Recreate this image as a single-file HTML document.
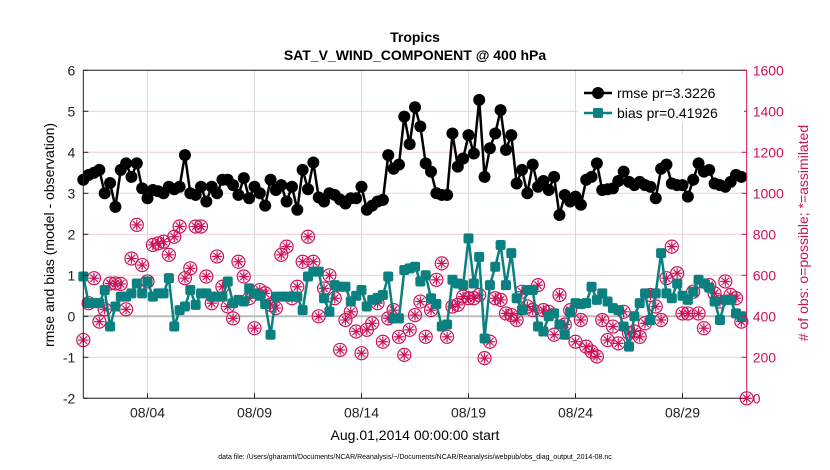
<!DOCTYPE html>
<html><head><meta charset="utf-8"><style>
body{margin:0;background:#fff;}
svg{display:block;font-family:"Liberation Sans",sans-serif;}
</style></head><body>
<svg id="chart" width="830" height="470" viewBox="0 0 830 470" xmlns="http://www.w3.org/2000/svg">
<rect width="830" height="470" fill="#fff"/>
<text x="415" y="42" text-anchor="middle" font-size="14" font-weight="bold">Tropics</text>
<text x="415" y="60" text-anchor="middle" font-size="14" font-weight="bold">SAT_V_WIND_COMPONENT @ 400 hPa</text>
<g id="grid"></g>
<g id="plot"></g>
<g id="axes"></g>
<text x="415" y="440" text-anchor="middle" font-size="14">Aug.01,2014 00:00:00 start</text>
<text x="415" y="459" text-anchor="middle" font-size="7">data file: /Users/gharamti/Documents/NCAR/Reanalysis/~/Documents/NCAR/Reanalysis/webpub/obs_diag_output_2014-08.nc</text>
<text transform="translate(54,235) rotate(-90)" text-anchor="middle" font-size="14">rmse and bias (model - observation)</text>
<text transform="translate(808,233) rotate(-90)" text-anchor="middle" font-size="14" fill="#cc1158"># of obs: o=possible; *=assimilated</text>
<g id="legend"></g>
</svg>
<script>
const rmse=[3.33,3.45,3.5,3.57, 3.0,3.25,2.67,3.57, 3.73,3.4,3.73,3.12, 2.88,3.08,3.05,3.0,
3.16,3.1,3.16,3.93, 3.0,2.96,3.16,2.8, 3.16,3.0,3.33,3.33, 3.2,2.96,3.37,2.88,
3.16,3.0,2.7,3.33, 3.08,3.2,2.8,3.16, 2.6,3.57,3.1,3.75, 2.9,2.8,3.0,2.96,
2.85,2.75,2.88,2.88, 3.16,2.6,2.7,2.8, 2.84,3.93,3.6,3.7, 4.87,4.2,5.1,4.63,
3.73,3.53,3.0,2.96, 2.96,4.46,3.65,3.85, 4.42,3.97,5.28,3.4, 4.1,4.46,5.03,4.06,
4.42,3.24,3.57,3.0, 3.7,3.16,3.3,3.08, 3.4,2.47,2.96,2.8, 2.92,2.72,3.33,3.4,
3.73,3.08,3.1,3.12, 3.3,3.53,3.28,3.2, 3.28,3.2,3.16,2.88, 3.6,3.7,3.24,3.2,
3.2,2.92,3.33,3.73, 3.53,3.57,3.24,3.2, 3.16,3.28,3.45,3.4];
const bias=[0.97,0.32,0.32,0.32, 0.64,-0.25,0.24,0.48, 0.48,0.56,0.8,0.56, 0.85,0.48,0.56,0.56,
0.93,-0.25,0.15,0.24, 0.64,0.28,0.56,0.56, 0.48,0.48,0.48,0.85, 0.32,0.4,0.36,0.68,
0.56,0.5,0.3,-0.45, 0.48,0.48,0.48,0.48, 0.48,0.15,0.97,1.09, 1.09,0.44,0.11,0.76,
0.72,0.72,0.36,0.5, 0.64,0.24,0.4,0.45, 0.52,0.97,-0.05,-0.05, 1.13,1.17,1.21,0.85,
1.0,0.44,0.3,-0.25, -0.2,0.89,0.8,0.76, 1.9,0.8,1.45,-0.54, 0.76,1.21,1.74,0.76,
1.54,0.44,0.15,0.64, 0.64,-0.25,-0.37,0.0, 0.07,-0.2,-0.45,0.1, 0.32,0.3,0.32,0.72,
0.4,0.56,0.36,0.2, 0.15,-0.25,-0.74,0.0, 0.32,0.56,-0.09,0.56, 1.54,0.56,0.44,0.8,
0.5,0.4,0.6,0.89, 0.8,0.7,0.36,-0.09, 0.4,0.4,0.07,0.0];
const obsCount=[284,464,586,374, 434,560,560,558, 434,682,846,650, 570,748,756,764,
700,788,838,586, 634,838,838,594, 464,692,544,448, 390,666,594,488,
342,528,512,456, 440,700,740,488, 544,666,788,666, 400,536,600,488,
236,382,422,326, 220,334,366,464, 276,390,430,300, 212,334,406,472,
300,430,578,658, 300,448,456,496, 488,488,504,196, 276,488,480,414,
406,382,520,448, 430,552,430,422, 310,504,360,430, 276,382,252,228,
204,382,284,350, 268,422,318,326, 300,366,504,448, 382,586,740,610,
414,414,520,414, 342,552,512,472, 570,504,488,374, 0];
const xTickDays=[3,8,13,18,23,28];
const xTickLabels=["08/04","08/09","08/14","08/19","08/24","08/29"];
const yTicks=[-2,-1,0,1,2,3,4,5,6];
const y2Ticks=[0,200,400,600,800,1000,1200,1400,1600];

const L=83.3,R=746.7,T=70.3,B=398.3, XMAX=31;
const NS="http://www.w3.org/2000/svg";
const xs=d=>L+(d/XMAX)*(R-L);
const ys=v=>B-(v+2)/8*(B-T);
const ys2=c=>B-c/1600*(B-T);
function mk(tag,attrs,parent){const e=document.createElementNS(NS,tag);for(const k in attrs)e.setAttribute(k,attrs[k]);parent.appendChild(e);return e;}
const grid=document.getElementById('grid'),plot=document.getElementById('plot'),axes=document.getElementById('axes'),leg=document.getElementById('legend');
const MAG="#cc1158";
yTicks.forEach(v=>{const l=mk('line',{x1:L,x2:R,y1:ys(v),y2:ys(v),stroke:'#f0c8dc','stroke-width':1},grid);

});
xTickDays.forEach(d=>{const l=mk('line',{x1:xs(d),x2:xs(d),y1:T,y2:B,stroke:'#d8d8d8','stroke-width':1},grid);

});
const zl=mk('line',{x1:L,x2:R,y1:ys(0),y2:ys(0),stroke:'#bbbbbb','stroke-width':2},grid);


obsCount.forEach((c,i)=>{const cx=xs(i/4),cy=ys2(c),r=6.5;
const g=mk('g',{stroke:MAG,'stroke-width':1.2,fill:'none'},plot);


mk('circle',{cx:cx,cy:cy,r:r},g);
for(let a=0;a<4;a++){const t=a*Math.PI/4,dx=Math.cos(t)*r*0.8,dy=Math.sin(t)*r*0.8;mk('line',{x1:cx-dx,y1:cy-dy,x2:cx+dx,y2:cy+dy},g);}
});
const bp=bias.map((v,i)=>xs(i/4)+','+ys(v)).join(' ');
const bl=mk('polyline',{points:bp,fill:'none',stroke:'#0a8080','stroke-width':2.5},plot);


bias.forEach((v,i)=>{const s=mk('rect',{x:xs(i/4)-5,y:ys(v)-5,width:10,height:10,rx:2,fill:'#0a8080'},plot);

});
const rp=rmse.map((v,i)=>xs(i/4)+','+ys(v)).join(' ');
const rl=mk('polyline',{points:rp,fill:'none',stroke:'#000','stroke-width':2.5},plot);


rmse.forEach((v,i)=>{const c=mk('circle',{cx:xs(i/4),cy:ys(v),r:6,fill:'#000'},plot);

});
const la=mk('line',{x1:L,x2:L,y1:T,y2:B,stroke:'#222','stroke-width':1},axes);


const ba=mk('line',{x1:L,x2:R,y1:B,y2:B,stroke:'#222','stroke-width':1},axes);


const ta=mk('line',{x1:L,x2:R,y1:T,y2:T,stroke:'#222','stroke-width':1},axes);


const ra=mk('line',{x1:R,x2:R,y1:T,y2:B,stroke:MAG,'stroke-width':1},axes);


yTicks.forEach(v=>{mk('line',{x1:L,x2:L+5,y1:ys(v),y2:ys(v),stroke:'#222'},axes);
const t=mk('text',{x:L-8,y:ys(v)+5,'text-anchor':'end','font-size':14,fill:'#222'},axes);t.textContent=v;

});
y2Ticks.forEach(v=>{mk('line',{x1:R-5,x2:R,y1:ys2(v),y2:ys2(v),stroke:MAG},axes);
const t=mk('text',{x:R+6,y:ys2(v)+5,'font-size':14,fill:MAG},axes);t.textContent=v;

});
xTickDays.forEach((d,i)=>{mk('line',{x1:xs(d),x2:xs(d),y1:B,y2:B-5,stroke:'#222'},axes);
const t=mk('text',{x:xs(d),y:B+19,'text-anchor':'middle','font-size':14,fill:'#222'},axes);t.textContent=xTickLabels[i];

});
mk('rect',{x:578,y:74,width:166,height:48,fill:'#fff'},leg);
mk('line',{x1:584,x2:612,y1:93,y2:93,stroke:'#000','stroke-width':2.5},leg);
mk('circle',{cx:598,cy:93,r:6,fill:'#000'},leg);
const lt1=mk('text',{x:617,y:98,'font-size':14},leg);lt1.textContent='rmse pr=3.3226';


mk('line',{x1:584,x2:612,y1:113,y2:113,stroke:'#0a8080','stroke-width':2.5},leg);
mk('rect',{x:593,y:108,width:10,height:10,rx:2,fill:'#0a8080'},leg);
const lt2=mk('text',{x:617,y:118,'font-size':14},leg);lt2.textContent='bias pr=0.41926';


</script>
</body></html>
